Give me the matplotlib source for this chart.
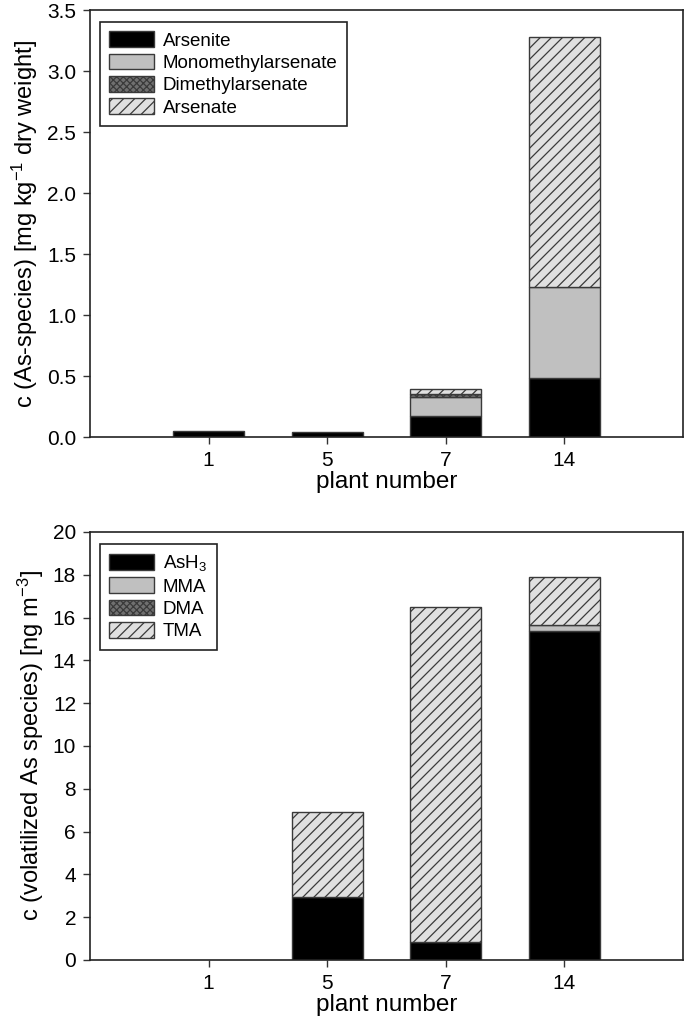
import matplotlib
matplotlib.use("Agg")
import matplotlib.pyplot as plt
from matplotlib.patches import Patch
import numpy as np

plt.rcParams['font.family'] = ['Liberation Sans', 'DejaVu Sans']
plt.rcParams['mathtext.fontset'] = 'custom'
plt.rcParams['mathtext.rm'] = 'Liberation Sans'
plt.rcParams['mathtext.it'] = 'Liberation Sans'
plt.rcParams['mathtext.default'] = 'regular'
plt.rcParams['hatch.linewidth'] = 0.9
plt.rcParams['hatch.color'] = '#202020'

plants = ['1', '5', '7', '14']

# Top panel: As species in plants [mg kg-1 dry weight]
arsenite = [0.05, 0.04, 0.17, 0.48]
mma_plant = [0.0, 0.0, 0.155, 0.75]
dma_plant = [0.0, 0.0, 0.025, 0.0]
arsenate = [0.0, 0.0, 0.04, 2.05]
top_labels = ['Arsenite', 'Monomethylarsenate', 'Dimethylarsenate', 'Arsenate']

# Bottom panel: volatilized As species [ng m-3]
ash3 = [0.0, 2.95, 0.84, 15.35]
mma_vol = [0.0, 0.0, 0.0, 0.32]
dma_vol = [0.0, 0.0, 0.0, 0.0]
tma = [0.0, 3.95, 15.66, 2.23]
bot_labels = ['AsH$_3$', 'MMA', 'DMA', 'TMA']

styles = [
    dict(facecolor='black', hatch=None),
    dict(facecolor='#c0c0c0', hatch=None),
    dict(facecolor='#707070', hatch='xxxxx'),
    dict(facecolor='#e0e0e0', hatch='///'),
]
EDGE = '#3a3a3a'

fig = plt.figure(figsize=(6.85, 10.31), dpi=100)
ax1 = fig.add_axes([0.1314, 0.5761, 0.8656, 0.4142])
ax2 = fig.add_axes([0.1314, 0.0689, 0.8656, 0.4151])

x = np.arange(1, len(plants) + 1)
width = 0.6


def draw(ax, series, labels, ylim, yticks, yfmt, ylabel, legend_bbox):
    bottom = np.zeros(len(plants))
    handles = []
    for vals, st, lab in zip(series, styles, labels):
        vals = np.array(vals, dtype=float)
        b = ax.bar(x, vals, width, bottom=bottom, facecolor=st['facecolor'],
                   hatch=st['hatch'], edgecolor=EDGE, linewidth=1.0)
        for p, v in zip(b.patches, vals):
            if v <= 0:
                p.set_visible(False)
        handles.append(Patch(facecolor=st['facecolor'], hatch=st['hatch'],
                             edgecolor=EDGE, linewidth=1.0, label=lab))
        bottom = bottom + vals
    ax.set_xlim(0, 5)
    ax.set_ylim(*ylim)
    ax.set_xticks(x)
    ax.set_xticklabels(plants)
    ax.set_yticks(yticks)
    ax.set_yticklabels([yfmt.format(v) for v in yticks])
    ax.tick_params(axis='both', direction='out', length=5, width=1,
                   labelsize=15, color='#333333', pad=5)
    for s in ax.spines.values():
        s.set_linewidth(1.2)
        s.set_color('#222222')
    ax.set_xlabel('plant number', fontsize=17.5, labelpad=1)
    ax.set_ylabel(ylabel, fontsize=17, labelpad=5)
    leg = ax.legend(handles=handles, labels=labels, loc='upper left',
                    bbox_to_anchor=legend_bbox, fontsize=13.5, frameon=True,
                    fancybox=False, edgecolor='#222222', framealpha=1,
                    handlelength=2.4, handleheight=0.9, handletextpad=0.45,
                    labelspacing=0.22, borderpad=0.5, borderaxespad=0)
    leg.get_frame().set_linewidth(1.2)


draw(ax1, [arsenite, mma_plant, dma_plant, arsenate], top_labels, (0, 3.5),
     np.arange(0, 3.51, 0.5), '{:.1f}',
     'c (As-species) [mg kg$^{-1}$ dry weight]', (0.017, 0.972))
draw(ax2, [ash3, mma_vol, dma_vol, tma], bot_labels, (0, 20),
     np.arange(0, 20.1, 2), '{:.0f}',
     'c (volatilized As species) [ng m$^{-3}$]', (0.017, 0.972))

fig.savefig('out.png', dpi=100)
